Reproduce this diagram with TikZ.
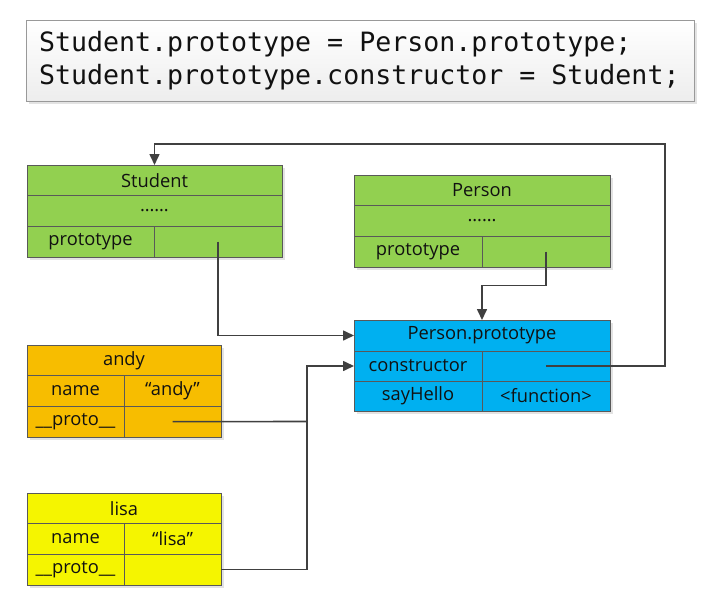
\documentclass[tikz,border=0pt]{standalone}
\usepackage{fontspec}
\setmainfont{Open Sans}
\setmonofont{DejaVu Sans Mono}
\usetikzlibrary{arrows.meta,positioning,shadows}
\definecolor{jsgreen}{HTML}{92D050}
\definecolor{jsblue}{HTML}{00B0F0}
\definecolor{jsorange}{HTML}{F7BD00}
\definecolor{jsyellow}{HTML}{F5F500}
\definecolor{jsline}{HTML}{595959}
\definecolor{jstext}{HTML}{111111}
\definecolor{jsarrow}{HTML}{404040}
\tikzset{
  frame/.style={anchor=north west,inner sep=0pt,outer sep=0pt,fill=white,
    drop shadow={shadow xshift=2.5pt,shadow yshift=-2.5pt,fill=black!22}},
  cell/.style={draw=jsline,line width=0.7pt,anchor=north west,inner sep=0pt,outer sep=0pt,
    minimum height=30.67pt,text=jstext,font=\fontsize{18.3}{21}\selectfont},
  conn/.style={draw=jsarrow,line width=1.6pt},
  arr/.style={conn,-{Triangle[length=11pt,width=10pt]}}
}
\begin{document}
\begin{tikzpicture}[x=1pt,y=-1pt]
  \useasboundingbox (0,0) rectangle (723,608);
  % code box
  \node[frame,draw=gray!80,line width=0.7pt,top color=white,bottom color=gray!14,
    text width=642pt,inner xsep=13pt,minimum height=81pt,align=left,text=jstext,
    font=\ttfamily\fontsize{26.6}{33}\selectfont] (code) at (26,20)
    {\spaceskip=0.602em\relax Student.prototype = Person.prototype;\\Student.prototype.constructor = Student;};

  % Student
  \node[frame,minimum width=255pt,minimum height=92pt] (stu) at (27,165) {};
  \node[cell,fill=jsgreen,minimum width=255pt] (stu-t) at (stu.north west) {Student};
  \node[cell,fill=jsgreen,minimum width=255pt] (stu-d) at (stu-t.south west) {……};
  \node[cell,fill=jsgreen,minimum width=127pt] (stu-k) at (stu-d.south west) {prototype};
  \node[cell,fill=jsgreen,minimum width=128pt,right=0pt of stu-k] (stu-v) {};

  % Person
  \node[frame,minimum width=256pt,minimum height=92pt] (per) at (354,175) {};
  \node[cell,fill=jsgreen,minimum width=256pt] (per-t) at (per.north west) {Person};
  \node[cell,fill=jsgreen,minimum width=256pt] (per-d) at (per-t.south west) {……};
  \node[cell,fill=jsgreen,minimum width=128pt] (per-k) at (per-d.south west) {prototype};
  \node[cell,fill=jsgreen,minimum width=128pt,right=0pt of per-k] (per-v) {};

  % Person.prototype
  \node[frame,minimum width=256pt,minimum height=91pt] (pp) at (354,320) {};
  \node[cell,fill=jsblue,minimum width=256pt,minimum height=31pt] (pp-t) at (pp.north west) {Person.prototype};
  \node[cell,fill=jsblue,minimum width=128pt,minimum height=30pt] (pp-ck) at (pp-t.south west) {constructor};
  \node[cell,fill=jsblue,minimum width=128pt,minimum height=30pt,right=0pt of pp-ck] (pp-cv) {};
  \node[cell,fill=jsblue,minimum width=128pt,minimum height=30pt] (pp-sk) at (pp-ck.south west) {sayHello};
  \node[cell,fill=jsblue,minimum width=128pt,minimum height=30pt,right=0pt of pp-sk] (pp-sv) {<function>};

  % andy
  \node[frame,minimum width=194pt,minimum height=92pt] (andy) at (27,345) {};
  \node[cell,fill=jsorange,minimum width=194pt] (andy-t) at (andy.north west) {andy};
  \node[cell,fill=jsorange,minimum width=97pt] (andy-nk) at (andy-t.south west) {name};
  \node[cell,fill=jsorange,minimum width=97pt,right=0pt of andy-nk] (andy-nv) {“andy”};
  \node[cell,fill=jsorange,minimum width=97pt] (andy-k) at (andy-nk.south west) {\_\_proto\_\_};
  \node[cell,fill=jsorange,minimum width=97pt,right=0pt of andy-k] (andy-v) {};

  % lisa
  \node[frame,minimum width=194pt,minimum height=92pt] (lisa) at (27,493) {};
  \node[cell,fill=jsyellow,minimum width=194pt] (lisa-t) at (lisa.north west) {lisa};
  \node[cell,fill=jsyellow,minimum width=97pt] (lisa-nk) at (lisa-t.south west) {name};
  \node[cell,fill=jsyellow,minimum width=97pt,right=0pt of lisa-nk] (lisa-nv) {“lisa”};
  \node[cell,fill=jsyellow,minimum width=97pt] (lisa-k) at (lisa-nk.south west) {\_\_proto\_\_};
  \node[cell,fill=jsyellow,minimum width=97pt,right=0pt of lisa-k] (lisa-v) {};

  % connectors
  \coordinate (ret) at (665,144);
  \coordinate (join) at (307,421.5);
  \draw[arr] (stu-v.center) |- (pp-t.west);
  \draw[arr] (per-v.center) -- ++(0,34) -| (pp-t.north);
  \draw[arr] (pp-cv.center) -| (ret) -| (stu-t.north);
  \draw[arr] (andy-v.center) -- (join) |- (pp-ck.west);
  \draw[conn] (lisa-v.east) -| (join);
\end{tikzpicture}
\end{document}
